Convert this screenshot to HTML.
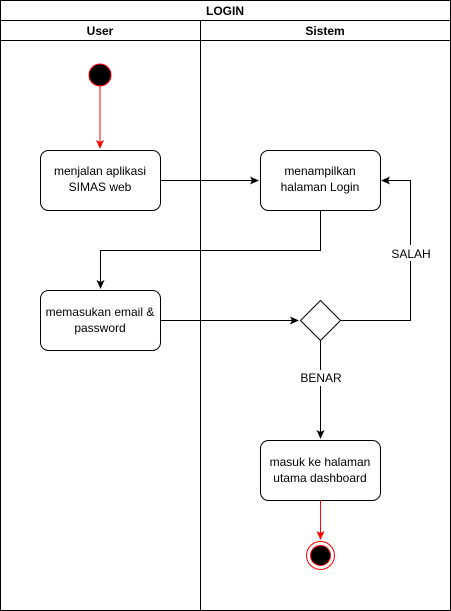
<!DOCTYPE html>
<html><head><style>body{margin:0;background:#fff}svg{display:block}text{font-family:"Liberation Sans",Arial,sans-serif;font-size:12px}</style></head><body>
<svg width="451" height="611" viewBox="0 0 451 611" xmlns="http://www.w3.org/2000/svg">
<defs>
<marker id="a" markerWidth="10" markerHeight="10" refX="8" refY="5" orient="auto" markerUnits="userSpaceOnUse"><path d="M0,1 L9,5 L0,9 L2,5 z" fill="#000"/></marker>
<marker id="r" markerWidth="10" markerHeight="10" refX="8" refY="5" orient="auto" markerUnits="userSpaceOnUse"><path d="M0,1 L9,5 L0,9 L2,5 z" fill="#f00"/></marker>
</defs>
<rect x="0.5" y="0.5" width="450" height="610" fill="#fff" stroke="#000"/>
<line x1="0" y1="20.5" x2="451" y2="20.5" stroke="#000"/>
<line x1="0" y1="40.5" x2="451" y2="40.5" stroke="#000"/>
<line x1="200.5" y1="20" x2="200.5" y2="611" stroke="#000"/>
<text x="225" y="15" text-anchor="middle" font-weight="bold">LOGIN</text>
<text x="100" y="35" text-anchor="middle" font-weight="bold">User</text>
<text x="325" y="35" text-anchor="middle" font-weight="bold">Sistem</text>
<circle cx="100" cy="75" r="11" fill="#000" stroke="#f00"/>
<line x1="100" y1="86" x2="100" y2="148" stroke="#f00" marker-end="url(#r)"/>
<rect x="40.5" y="150.5" width="120" height="60" rx="8" fill="#fff" stroke="#000"/>
<text x="100" y="175" text-anchor="middle">menjalan aplikasi</text>
<text x="100" y="191" text-anchor="middle">SIMAS web</text>
<line x1="160" y1="180.5" x2="258" y2="180.5" stroke="#000" marker-end="url(#a)"/>
<rect x="260.5" y="150.5" width="120" height="60" rx="8" fill="#fff" stroke="#000"/>
<text x="320" y="175" text-anchor="middle">menampilkan</text>
<text x="320" y="191" text-anchor="middle">halaman Login</text>
<polyline points="320.5,210 320.5,250.5 100.5,250.5 100.5,288" fill="none" stroke="#000" marker-end="url(#a)"/>
<rect x="40.5" y="290.5" width="120" height="60" rx="8" fill="#fff" stroke="#000"/>
<text x="100" y="316" text-anchor="middle">memasukan email &amp;</text>
<text x="100" y="332" text-anchor="middle">password</text>
<line x1="160" y1="320.5" x2="298" y2="320.5" stroke="#000" marker-end="url(#a)"/>
<polygon points="320.5,300.5 340.5,320.5 320.5,340.5 300.5,320.5" fill="#fff" stroke="#000"/>
<polyline points="340,320.5 410.5,320.5 410.5,180.5 382,180.5" fill="none" stroke="#000" marker-end="url(#a)"/>
<rect x="390" y="245" width="42" height="16" fill="#fff"/>
<text x="411" y="258" text-anchor="middle" font-size="11">SALAH</text>
<line x1="320.5" y1="340" x2="320.5" y2="438" stroke="#000" marker-end="url(#a)"/>
<rect x="298" y="370" width="45" height="16" fill="#fff"/>
<text x="321" y="382" text-anchor="middle" font-size="11">BENAR</text>
<rect x="260.5" y="440.5" width="120" height="60" rx="8" fill="#fff" stroke="#000"/>
<text x="320" y="466" text-anchor="middle">masuk ke halaman</text>
<text x="320" y="482" text-anchor="middle">utama dashboard</text>
<line x1="320.5" y1="500" x2="320.5" y2="539" stroke="#f00" marker-end="url(#r)"/>
<circle cx="320.5" cy="555.5" r="14" fill="#fff" stroke="#f00"/>
<circle cx="320.5" cy="555.5" r="10" fill="#000" stroke="#f00"/>
</svg>
</body></html>
